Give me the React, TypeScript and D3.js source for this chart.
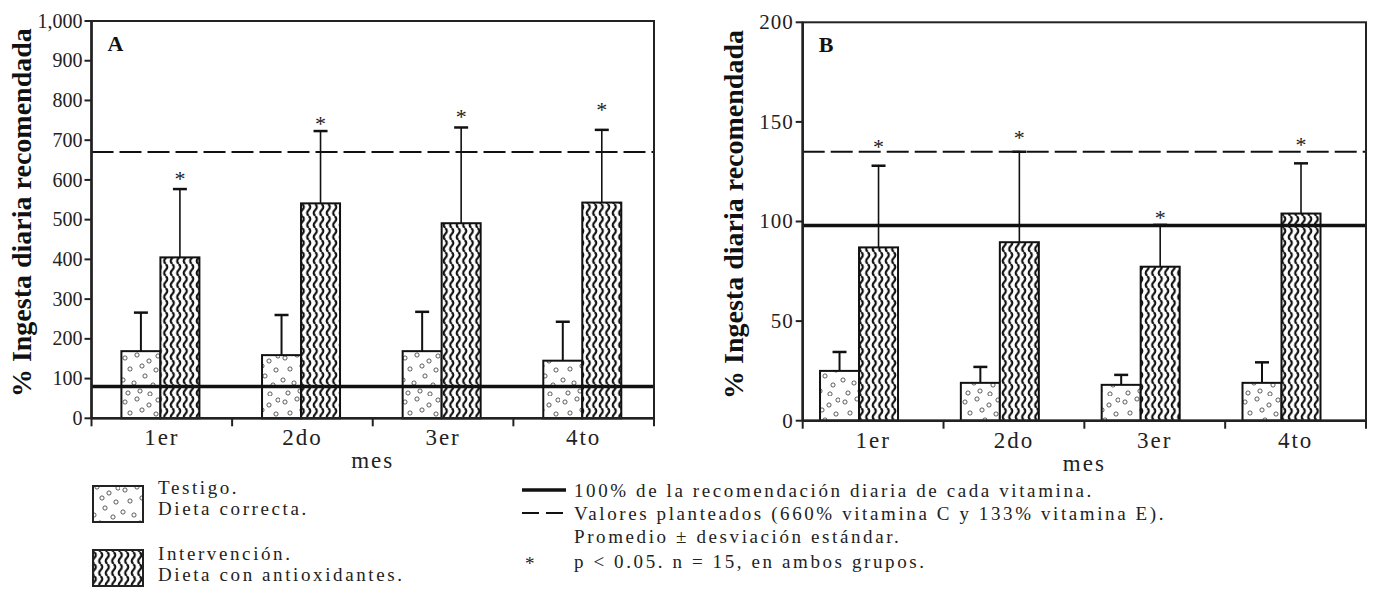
import React from "react";
import * as d3 from "d3";

const categories = ["1er", "2do", "3er", "4to"];

// Panel A (vitamina C)
const testigoA = [169, 159, 169, 145];
const testigoSdA = [97, 101, 99, 98];
const intervA = [405, 541, 491, 543];
const intervSdA = [172, 182, 241, 183];
const starA = [615, 753, 772, 789];
const refA = 80;
const targetA = 670;
const ticksA = [0, 100, 200, 300, 400, 500, 600, 700, 800, 900, 1000];

// Panel B (vitamina E)
const testigoB = [25, 19, 18, 19];
const testigoSdB = [9.5, 8, 5, 10.3];
const intervB = [87, 89.6, 77.3, 104];
const intervSdB = [41, 45.4, 21, 25.2];
const starB = [140, 144.6, 104.3, 141];
const refB = 98;
const targetB = 135;
const ticksB = [0, 50, 100, 150, 200];

const yTitle = "% Ingesta diaria recomendada";
const xTitle = "mes";

const FONT = "Liberation Serif, Tinos, DejaVu Serif, serif";

function Patterns() {
  return (
    <>
      <pattern id="wave" patternUnits="userSpaceOnUse" width={6.5} height={12}>
        <rect width={6.5} height={12} fill="#fff" />
        <path d="M3.25,0 C5.3,2 5.3,4 3.25,6 C1.2,8 1.2,10 3.25,12" fill="none" stroke="#111" strokeWidth={2.2} />
      </pattern>
      <pattern id="dots" patternUnits="userSpaceOnUse" width={40} height={44}>
        <rect width={40} height={44} fill="#fff" />
        {[
          [5, 6], [17, 3], [29, 9], [36, 18], [10, 17], [22, 14], [25, 24], [3, 28], [14, 31], [33, 33], [20, 39], [8, 41], [30, 42], [38, 4]
        ].map(([cx, cy], i) => (
          <circle key={i} cx={cx} cy={cy} r={2.1} fill="none" stroke="#333" strokeWidth={0.8} />
        ))}
      </pattern>
    </>
  );
}

type PanelProps = {
  label: string;
  x0: number; x1: number; yTop: number; yBottom: number;
  maxY: number; ticks: number[]; tickFmt: (v: number) => string;
  testigo: number[]; testigoSd: number[]; interv: number[]; intervSd: number[];
  stars: number[]; ref: number; target: number; offset: number;
  titleX: number; tickFontSize: number; tickLS: number;
};

function Panel(p: PanelProps) {
  const x = d3.scaleBand<string>().domain(categories).range([p.x0, p.x1]);
  const y = d3.scaleLinear().domain([0, p.maxY]).range([p.yBottom, p.yTop]);
  const bw = 39;
  const bwBand = x.bandwidth();
  const cap = 7;
  const centers = categories.map((c) => (x(c) as number) + bwBand * p.offset);
  const tickXs = [...categories.map((c) => x(c) as number), p.x1];
  return (
    <g fontFamily={FONT}>
      {categories.map((c, i) => (
        <g key={c}>
          <rect x={centers[i] - bw} y={y(p.testigo[i])} width={bw} height={y(0) - y(p.testigo[i])} fill="url(#dots)" stroke="#111" strokeWidth={2} />
          <rect x={centers[i]} y={y(p.interv[i])} width={bw} height={y(0) - y(p.interv[i])} fill="url(#wave)" stroke="#111" strokeWidth={2} />
        </g>
      ))}
      <line x1={p.x0} x2={p.x1} y1={y(p.ref)} y2={y(p.ref)} stroke="#111" strokeWidth={3.6} />
      <line x1={p.x0} x2={p.x1} y1={y(p.target)} y2={y(p.target)} stroke="#111" strokeWidth={2} strokeDasharray="22,6" />
      {categories.map((c, i) => {
        const tx = centers[i] - bw / 2;
        const ix = centers[i] + bw / 2;
        return (
          <g key={c} stroke="#111">
            <line x1={tx} x2={tx} y1={y(p.testigo[i])} y2={y(p.testigo[i] + p.testigoSd[i])} strokeWidth={2} />
            <line x1={tx - cap} x2={tx + cap} y1={y(p.testigo[i] + p.testigoSd[i])} y2={y(p.testigo[i] + p.testigoSd[i])} strokeWidth={2.5} />
            <line x1={ix} x2={ix} y1={y(p.interv[i])} y2={y(p.interv[i] + p.intervSd[i])} strokeWidth={1.6} />
            <line x1={ix - cap} x2={ix + cap} y1={y(p.interv[i] + p.intervSd[i])} y2={y(p.interv[i] + p.intervSd[i])} strokeWidth={2.5} />
          </g>
        );
      })}
      {categories.map((c, i) => (
        <text key={c} x={centers[i] + bw / 2} y={y(p.stars[i]) + 12} textAnchor="middle" fontSize={22} fill="#222">*</text>
      ))}
      <rect x={p.x0} y={p.yTop} width={p.x1 - p.x0} height={p.yBottom - p.yTop} fill="none" stroke="#222" strokeWidth={2} />
      <line x1={p.x0} x2={p.x0} y1={p.yTop} y2={p.yBottom} stroke="#222" strokeWidth={2.5} />
      <line x1={p.x0} x2={p.x1} y1={p.yBottom} y2={p.yBottom} stroke="#222" strokeWidth={2.5} />
      {p.ticks.map((t) => (
        <g key={t}>
          <line x1={p.x0 - 7} x2={p.x0} y1={y(t)} y2={y(t)} stroke="#222" strokeWidth={2} />
          <text x={p.x0 - 9} y={y(t)} dy="0.33em" textAnchor="end" fontSize={p.tickFontSize} letterSpacing={p.tickLS} fill="#222">{p.tickFmt(t)}</text>
        </g>
      ))}
      {tickXs.map((tx, i) => (
        <line key={i} x1={tx} x2={tx} y1={p.yBottom} y2={p.yBottom + 8} stroke="#222" strokeWidth={2} />
      ))}
      {categories.map((c) => (
        <text key={c} x={(x(c) as number) + bwBand / 2} y={p.yBottom + 27} textAnchor="middle" fontSize={23} letterSpacing={2} fill="#222">{c}</text>
      ))}
      <text x={(p.x0 + p.x1) / 2} y={p.yBottom + 50} textAnchor="middle" fontSize={23} letterSpacing={2} fill="#222">{xTitle}</text>
      <text x={p.x0 + 16} y={p.yTop + 30} fontSize={22} fontWeight="bold" fill="#111">{p.label}</text>
      <text transform={`translate(${p.titleX},${(p.yTop + p.yBottom) / 2 - 7}) rotate(-90)`} textAnchor="middle" fontSize={28} fontWeight="bold" fill="#111">{yTitle}</text>
    </g>
  );
}

export default function App() {
  const fmtA = d3.format(",");
  const fmtB = d3.format("d");
  const legendFont = 19;
  const ls = 2.6;
  return (
    <svg width={1373} height={601} style={{ position: "absolute", left: 0, top: 0, background: "#fff" }}>
      <defs>
        <Patterns />
      </defs>
      <rect width={1373} height={601} fill="#fff" />
      <Panel label="A" x0={91.5} x1={654} yTop={21} yBottom={418.3} maxY={1000} ticks={ticksA} tickFmt={fmtA}
        testigo={testigoA} testigoSd={testigoSdA} interv={intervA} intervSd={intervSdA} stars={starA}
        ref={refA} target={targetA} offset={0.49} titleX={31} tickFontSize={20} tickLS={0} />
      <Panel label="B" x0={802.7} x1={1366} yTop={22.3} yBottom={420.7} maxY={200} ticks={ticksB} tickFmt={fmtB}
        testigo={testigoB} testigoSd={testigoSdB} interv={intervB} intervSd={intervSdB} stars={starB}
        ref={refB} target={targetB} offset={0.40} titleX={743} tickFontSize={21} tickLS={1} />
      <g fontFamily={FONT} fontSize={legendFont} letterSpacing={ls} fill="#222">
        <rect x={93} y={486} width={50} height={36} fill="url(#dots)" stroke="#222" strokeWidth={2} />
        <text x={158} y={494}>Testigo.</text>
        <text x={158} y={515}>Dieta correcta.</text>
        <rect x={93} y={550} width={50} height={36} fill="url(#wave)" stroke="#222" strokeWidth={2} />
        <text x={158} y={560}>Intervención.</text>
        <text x={158} y={581}>Dieta con antioxidantes.</text>

        <line x1={522} x2={566} y1={490} y2={490} stroke="#111" strokeWidth={3.6} />
        <text x={574} y={497}>100% de la recomendación diaria de cada vitamina.</text>
        <line x1={522} x2={566} y1={513} y2={513} stroke="#111" strokeWidth={2} strokeDasharray="17,7" />
        <text x={574} y={520}>Valores planteados (660% vitamina C y 133% vitamina E).</text>
        <text x={574} y={543}>Promedio ± desviación estándar.</text>
        <text x={525} y={570}>*</text>
        <text x={574} y={568}>p &lt; 0.05. n = 15, en ambos grupos.</text>
      </g>
    </svg>
  );
}
